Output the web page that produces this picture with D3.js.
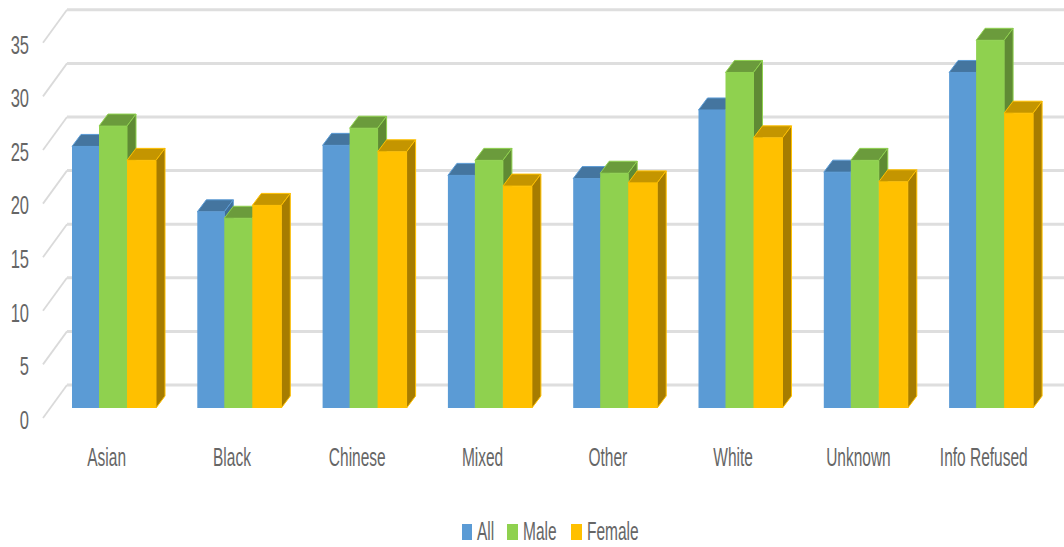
<!DOCTYPE html>
<html>
<head>
<meta charset="utf-8">
<script src="https://cdn.jsdelivr.net/npm/d3@7/dist/d3.min.js"></script>
<style>
  html, body { margin: 0; background: #fff; }
  svg { display: block; }
  text { font-family: "Liberation Sans", sans-serif; fill: #666; }
</style>
</head>
<body>
<svg id="chart" width="1064" height="547"></svg>
<script>
const categories = ["Asian", "Black", "Chinese", "Mixed", "Other", "White", "Unknown", "Info Refused"];
const seriesNames = ["All", "Male", "Female"];
const allValues = [24.4, 18.3, 24.5, 21.7, 21.4, 27.8, 22.0, 31.3];
const maleValues = [26.3, 17.7, 26.1, 23.1, 21.9, 31.3, 23.1, 34.3];
const femaleValues = [23.1, 18.9, 23.9, 20.7, 21.0, 25.2, 21.1, 27.5];
const seriesValues = [allValues, maleValues, femaleValues];
const frontColors = ["#5b9bd5", "#8fd14f", "#ffc000"];
const topColors = ["#44759f", "#6b9b3c", "#c49500"];
const sideColors = ["#3f6d96", "#5f8a34", "#a67c00"];
const yTicks = [0, 5, 10, 15, 20, 25, 30, 35];

const svg = d3.select("#chart");

// Oblique projection: the floor runs from the front edge to the back wall.
const floorFront = 418, barBase = 408, wallBase = 385;
const wallDx = 24, wallDy = floorFront - wallBase;
const barDx = 9, barDy = 12;
const unitHeight = 53.6 / 5;

const yHeight = d3.scaleLinear().domain([0, 35]).range([0, 35 * unitHeight]);
const x = d3.scaleBand().domain(categories).range([44, 44 + 8 * 125.3]);
// Left edge of each series column inside a category, plus the group's right edge.
const xSeries = d3.scaleOrdinal().domain([0, 1, 2, 3]).range([28, 55, 83, 112]);

// Condensed text: glyphs are narrowed horizontally around the anchor point.
function label(px, py, str, anchor, size, squeeze) {
  return svg.append("text")
    .attr("transform", `translate(${px},${py}) scale(${squeeze},1)`)
    .attr("text-anchor", anchor)
    .attr("dominant-baseline", "central")
    .attr("font-size", size)
    .text(str);
}

// Walls: back gridlines and the slanted side-wall lines.
const grid = svg.append("g").attr("fill", "none");
yTicks.forEach(t => {
  const yFront = floorFront - yHeight(t);
  const yBack = yFront - wallDy;
  grid.append("path")
    .attr("d", `M43,${yFront}L${43 + wallDx},${yBack}`)
    .attr("stroke", "#dadada").attr("stroke-width", 1.8);
  grid.append("path")
    .attr("d", `M${43 + wallDx},${yBack}L1064,${yBack}`)
    .attr("stroke", "#dedede").attr("stroke-width", 3);
  label(29, yFront + 2, String(t), "end", 25, 0.66);
});

// Columns, drawn left to right so each one covers its neighbour's side face.
categories.forEach((cat, c) => {
  seriesValues.forEach((vals, s) => {
    const x0 = x(cat) + xSeries(s);
    const w = xSeries(s + 1) - xSeries(s);
    const top = barBase - yHeight(vals[c]);
    const g = svg.append("g")
      .attr("stroke-linejoin", "round");
    g.append("path")
      .attr("d", `M${x0},${top}l${barDx},${-barDy}h${w}l${-barDx},${barDy}Z`)
      .attr("fill", topColors[s]).attr("stroke", frontColors[s]).attr("stroke-width", 1);
    g.append("path")
      .attr("d", `M${x0 + w},${top}l${barDx},${-barDy}V${barBase - barDy}l${-barDx},${barDy}Z`)
      .attr("fill", sideColors[s]).attr("stroke", frontColors[s]).attr("stroke-width", 1);
    g.append("rect")
      .attr("x", x0).attr("y", top)
      .attr("width", w).attr("height", barBase - top)
      .attr("fill", frontColors[s]);
  });
  label(x(cat) + x.bandwidth() / 2, 457, cat, "middle", 25, 0.62);
});

// Legend
const legendX = [462, 507, 571];
const legendW = [10, 11, 11];
seriesNames.forEach((name, s) => {
  svg.append("rect")
    .attr("x", legendX[s]).attr("y", 524)
    .attr("width", legendW[s]).attr("height", 16)
    .attr("fill", frontColors[s]);
  label(legendX[s] + legendW[s] + 5, 531, name, "start", 25, 0.62);
});
</script>
</body>
</html>
